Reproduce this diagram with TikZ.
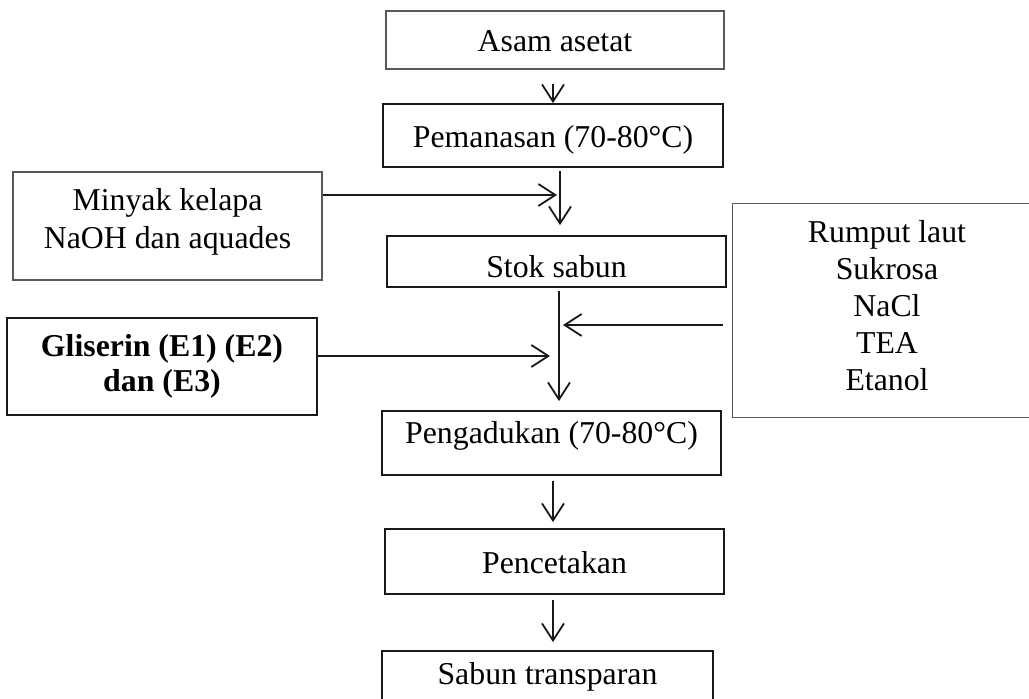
\documentclass[tikz,border=0pt]{standalone}
\usepackage{fontspec}
\setmainfont{Liberation Serif}
\usetikzlibrary{arrows.meta,calc}
\begin{document}
\begin{tikzpicture}[x=0.5pt,y=-0.5pt,
  txt/.style={font=\fontsize{15.9}{18.4}\selectfont, inner sep=0pt},
  one/.style={text height=#1, text depth=3pt},
  box/.style={draw=black!90, line width=0.9pt, rectangle, inner sep=0pt, txt},
  lbox/.style={draw=black!65, line width=0.7pt, rectangle, inner sep=0pt, txt},
  edge/.style={draw=black!65, line width=0.7pt},
  arr/.style={line width=0.9pt, draw=black!90, -{Straight Barb[length=8.5pt,width=11pt,line width=0.9pt]}}]
\useasboundingbox (0,0) rectangle (1029,699);
\clip (0,0) rectangle (1029,699);
% process boxes
\node[lbox, one=14.5pt, minimum width=169pt, minimum height=29pt] (asam) at (555,40) {Asam asetat};
\node[box, one=15.5pt, minimum width=170pt, minimum height=31.5pt] (pemanasan) at (553,135.5) {Pemanasan (70-80°C)};
\node[box, one=19pt, minimum width=169.5pt, minimum height=25.5pt] (stok) at (556.5,261.5) {Stok sabun};
\node[box, one=3.5pt, minimum width=169.5pt, minimum height=32pt] (pengadukan) at (551.5,443) {Pengadukan (70-80°C)};
\node[box, one=15pt, minimum width=169.5pt, minimum height=32.5pt] (pencetakan) at (554.5,561.5) {Pencetakan};
\node[box, minimum width=165.5pt, minimum height=60pt] (sabun) at (547.5,711) {};
\node[txt, one=13.5pt] (sabuntext) at (547.5,674) {Sabun transparan};
% input boxes
\node[lbox, minimum width=154.5pt, minimum height=54pt] (minyak) at (167.5,226) {};
\node[txt, align=center, font=\fontsize{15.9}{19.2}\selectfont] (minyaktext) at (167.5,221.6) {Minyak kelapa\\NaOH dan aquades};
\node[box, align=center, minimum width=155pt, minimum height=48.5pt, font=\fontsize{15.9}{17.5}\selectfont\bfseries] (gliserin) at (162,366.5) {Gliserin (E1) (E2)\\dan (E3)};
\node[inner sep=0pt, minimum width=170pt, minimum height=106.5pt] (rumput) at (903,310.5) {};
\draw[edge] (rumput.north east) -- (rumput.north west) -- (rumput.south west) -- (rumput.south east);
\node[txt, align=center] (rumputtext) at (887,305.6) {Rumput laut\\Sukrosa\\NaCl\\TEA\\Etanol};
% connector coordinates
\coordinate (c4) at (553,0);
\coordinate (c2) at (560,0);
\coordinate (c3) at (559,0);
\coordinate (m1) at (557,195);
\coordinate (r1) at (563,325);
\coordinate (g1) at (550,356);
% connectors
\draw[arr] ($(pemanasan.north -| c4)+(0,-19)$) -- (pemanasan.north -| c4);
\draw[arr, shorten <=1.5pt, shorten >=5pt] (pemanasan.south -| c2) -- (stok.north -| c2);
\draw[arr] (minyak.east |- m1) -- (m1);
\draw[arr, shorten <=1.5pt, shorten >=4.5pt] (stok.south -| c3) -- (pengadukan.north -| c3);
\draw[arr, shorten <=5pt] (rumput.west |- r1) -- (r1);
\draw[arr] (gliserin.east |- g1) -- (g1);
\draw[arr, shorten <=2.5pt, shorten >=3pt] (pengadukan.south -| c4) -- (pencetakan.north -| c4);
\draw[arr, shorten <=2.5pt, shorten >=4pt] (pencetakan.south -| c4) -- (sabun.north -| c4);
\end{tikzpicture}
\end{document}
